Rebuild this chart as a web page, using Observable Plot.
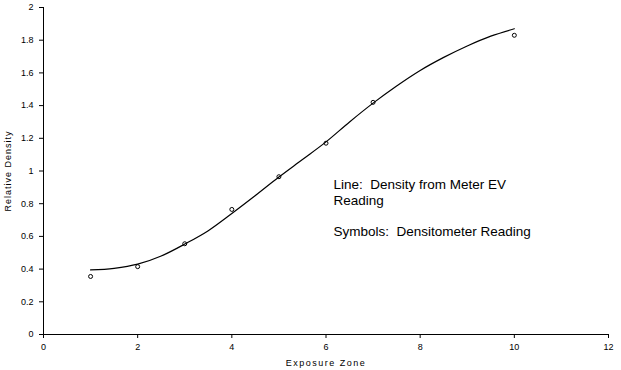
<!DOCTYPE html>
<html><head><meta charset="utf-8">
<script src="https://cdn.jsdelivr.net/npm/d3@7"></script>
<script src="https://cdn.jsdelivr.net/npm/@observablehq/plot@0.6"></script>
<style>
body{margin:0;background:#fff}
svg{font-family:Arial,"Liberation Sans",sans-serif}
.note text{white-space:pre}
</style>
</head><body><div id="chart"></div>
<script>
// Symbols: densitometer reading
const zones = [1, 2, 3, 4, 5, 6, 7, 10];
const densitometer = [0.355, 0.415, 0.555, 0.765, 0.965, 1.17, 1.42, 1.83];

// Line: density from meter EV reading
const lineZones = [1, 1.5, 2, 2.5, 3, 3.5, 4, 4.5, 5, 5.5, 6, 6.5, 7, 7.5, 8, 8.5, 9, 9.5, 10];
const meterDensity = [0.395, 0.405, 0.43, 0.48, 0.553, 0.635, 0.74, 0.85, 0.963, 1.07, 1.178, 1.30, 1.415, 1.52, 1.615, 1.695, 1.765, 1.825, 1.87];

const xTicks = [0, 2, 4, 6, 8, 10, 12];
const yTicks = [0, 0.2, 0.4, 0.6, 0.8, 1, 1.2, 1.4, 1.6, 1.8, 2];

const noteText = "Line:  Density from Meter EV\nReading\n\nSymbols:  Densitometer Reading";
const noteX = 6.16, noteY = 0.955;

const symbols = zones.map((z, i) => ({x: z, y: densitometer[i]}));
const curve = lineZones.map((z, i) => ({x: z, y: meterDensity[i]}));

const chart = Plot.plot({
  width: 621,
  height: 370,
  marginLeft: 43,
  marginRight: 13,
  marginTop: 7,
  marginBottom: 36,
  style: {fontSize: "9px", fontFamily: "Arial, 'Liberation Sans', sans-serif", color: "#000", background: "#fff"},
  x: {domain: [0, 12]},
  y: {domain: [0, 2]},
  marks: [
    Plot.axisX({ticks: xTicks, tickSize: 4, tickPadding: 5, tickFormat: d => String(d),
      label: "Exposure Zone", labelAnchor: "center", labelArrow: "none", labelOffset: 31,
      fontSize: 9}),
    Plot.axisY({ticks: yTicks, tickSize: 4, tickPadding: 6, tickFormat: d => String(+d.toFixed(1)),
      label: "Relative Density", labelAnchor: "center", labelArrow: "none", labelOffset: 39,
      fontSize: 9}),
    Plot.ruleX([0], {stroke: "#000"}),
    Plot.ruleY([0], {stroke: "#000"}),
    Plot.line(curve, {x: "x", y: "y", curve: "monotone-x", stroke: "#000", strokeWidth: 1.2}),
    Plot.dot(symbols, {x: "x", y: "y", r: 2, stroke: "#000", strokeWidth: 1, fill: "none"}),
    Plot.text([noteText], {x: noteX, y: noteY, text: d => d, textAnchor: "start", lineAnchor: "top",
      fontSize: 13.5, lineHeight: 1.15, fill: "#000", className: "note"})
  ]
});
document.getElementById("chart").appendChild(chart);
// letter-spaced axis titles, as in the reference
chart.querySelectorAll("g[aria-label='x-axis label'] text").forEach(t => t.style.letterSpacing = "1.5px");
chart.querySelectorAll("g[aria-label='y-axis label'] text").forEach(t => t.style.letterSpacing = "1px");
</script>
</body></html>
